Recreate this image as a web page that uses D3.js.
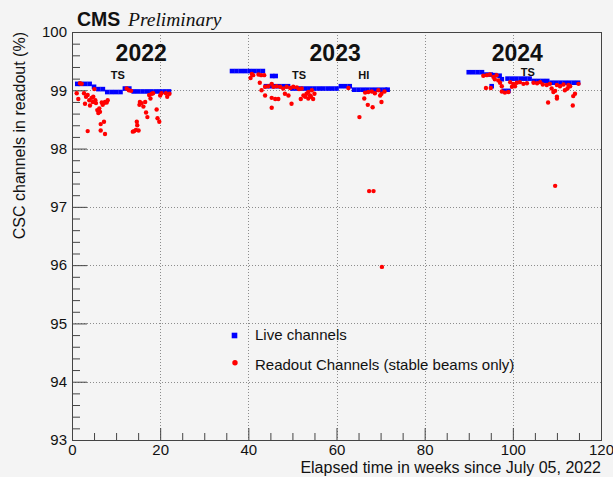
<!DOCTYPE html>
<html>
<head>
<meta charset="utf-8">
<script src="https://cdn.jsdelivr.net/npm/d3@7"></script>
<style>
  html, body { margin: 0; padding: 0; background: #f4f4f4; }
  svg { display: block; }
  text { font-family: "Liberation Sans", Arial, Helvetica, sans-serif; fill: #111; }
</style>
</head>
<body>
<svg id="chart" width="613" height="477"></svg>
<script>
// Live channels: fraction of CSC channels live, by elapsed week
const liveWeeks = [
  1.2, 2, 3, 4, 5, 6, 7, 8, 9, 10, 11, 12, 13, 14, 15, 16, 17, 18, 19, 20, 21, 22,
  36.3, 37.3, 38.3, 39.3, 40.3, 41.3, 42.3, 43.3,
  44, 45, 46, 47, 48, 49, 45.4, 46.2,
  50, 51, 52, 53, 54, 55, 56, 57, 58, 59, 60,
  61, 62, 63, 64, 65, 66, 67, 68, 69, 70, 71, 71.6,
  90, 91, 92, 93, 94, 95, 96, 97, 95.2, 97.5, 98, 99,
  98.8, 99.8, 100.8, 101.8, 102.8, 103.8, 104.8, 105.8, 106.8, 107.8,
  108.8, 109.8, 110.8, 111.8, 112.8, 113.8, 114.8
];
const liveValues = [
  99.11, 99.11, 99.11, 99.11, 99.06, 99.02, 99.02, 98.97, 98.97, 98.97, 98.97, 99.03, 99.03, 98.98, 98.98, 98.98, 98.98, 98.98, 98.98, 98.98, 98.98, 98.98,
  99.33, 99.33, 99.33, 99.33, 99.33, 99.33, 99.33, 99.33,
  99.07, 99.07, 99.07, 99.07, 99.07, 99.07, 99.245, 99.245,
  99.03, 99.03, 99.03, 99.03, 99.03, 99.03, 99.03, 99.03, 99.03, 99.03, 99.03,
  99.07, 99.07, 99.07, 99.01, 99.01, 99.01, 99.01, 99.01, 99.01, 99.01, 99.01, 99.01,
  99.31, 99.31, 99.31, 99.31, 99.27, 99.27, 99.26, 99.25, 99.07, 99.19, 98.99, 98.99,
  99.2, 99.2, 99.2, 99.2, 99.2, 99.2, 99.16, 99.16, 99.16, 99.16,
  99.13, 99.13, 99.13, 99.13, 99.13, 99.13, 99.13
];

// Readout channels during stable beams
const readoutWeeks = [
  1.07, 1.43, 1.81, 2.2, 2.72, 2.95, 3.18, 3.56, 3.92, 4.08, 4.47, 4.7, 4.83, 5.06, 5.29, 5.44,
  5.74, 5.97, 6.19, 6.35, 6.74, 6.96, 7.26, 7.49, 7.87, 8.1, 6.51, 7.26, 6.51, 7.49, 3.56,
  12.4, 12.9, 13.4, 15.4, 15.8, 15.3, 16.2, 16.6, 16.8, 17.1, 17.5, 17.8, 18.1, 18.4, 19.2,
  19.4, 19.8, 20.0, 20.3, 21.3, 21.6, 22.1, 13.8, 14.1, 14.5, 14.8, 15.1, 14.7,
  40.8, 41.1, 40.5, 42.3, 42.9, 43.6, 42.6, 43.8, 44.5, 45.3, 45.7, 46.4, 47.2, 47.9, 48.7,
  49.5, 50.2, 43.0, 43.8, 45.3, 46.1, 46.8, 45.3, 48.3, 49.1, 49.8, 52.1, 52.5, 51.9, 52.9,
  53.2, 53.6, 54.0, 54.4, 54.7, 54.2, 55.0, 53.6, 62.7, 51.0, 51.5,
  66.5, 67.2, 68.0, 68.7, 69.5, 70.2, 70.9, 66.3, 67.1, 68.2, 70.2, 69.9, 65.2, 67.4, 68.4, 70.3,
  94.1, 94.8, 95.6, 96.3, 95.9, 96.7, 93.9, 95.0, 97.5, 97.5, 98.2, 99.0, 93.3, 97.1, 99.4,
  100.1, 100.9, 101.6, 102.4, 99.8, 100.5, 104.7, 107.7, 108.4, 108.8, 109.2, 109.6, 110.0,
  110.7, 111.5, 111.8, 112.4, 113.0, 114.1, 113.7, 114.9, 112.6, 110.0, 108.0, 110.0, 113.6,
  106.2, 109.6, 103.2, 105.5, 106.8
];
const readoutValues = [
  98.95, 98.85, 99.12, 99.11, 98.95, 98.77, 98.89, 98.92, 98.83, 98.74, 98.87, 98.80, 98.89, 99.02, 98.83, 98.78,
  98.66, 98.61, 98.69, 98.63, 98.79, 98.75, 98.78, 98.80, 98.79, 98.83, 98.42, 98.46, 98.31, 98.25, 98.30,
  99.03, 99.00, 98.99, 98.80, 98.78, 98.75, 98.72, 98.80, 98.62, 98.54, 98.92, 98.86, 98.94, 98.95, 98.67,
  98.52, 98.46, 98.91, 98.95, 98.95, 98.89, 98.94, 98.29, 98.30, 98.32, 98.40, 98.31, 98.46,
  99.28, 99.26, 99.21, 99.27, 99.26, 99.26, 99.13, 99.06, 99.07, 99.11, 99.06, 99.07, 99.06, 99.03, 99.06,
  99.04, 99.06, 99.00, 98.91, 98.87, 98.85, 98.85, 98.70, 98.94, 98.91, 98.77, 99.03, 98.91, 98.85, 98.89,
  98.94, 98.97, 98.91, 99.00, 98.85, 98.89, 98.94, 98.86, 99.04, 99.05, 99.02,
  98.96, 98.97, 98.98, 98.95, 99.00, 98.94, 98.98, 98.86, 98.75, 98.71, 98.80, 98.91, 98.54, 97.27, 97.27, 95.97,
  99.26, 99.27, 99.23, 99.26, 99.19, 99.17, 99.04, 99.04, 99.07, 98.98, 98.96, 98.97, 99.25, 99.13, 99.14,
  99.11, 99.13, 99.14, 99.11, 99.06, 99.07, 99.13, 99.09, 99.11, 99.03, 98.97, 98.99, 99.09,
  99.07, 99.10, 99.00, 99.03, 99.07, 98.94, 98.90, 99.11, 99.09, 98.89, 98.79, 98.86, 98.74,
  99.14, 97.36, 99.12, 99.12, 99.10
];

// Axis tick values and labels
const xMajorTicks = [0, 20, 40, 60, 80, 100, 120];
const yMajorTicks = [93, 94, 95, 96, 97, 98, 99, 100];
const xGridTicks = [20, 40, 60, 80, 100];
const yGridTicks = [94, 95, 96, 97, 98, 99];

// Year and period annotations (text, week)
const yearLabels = ["2022", "2023", "2024"];
const yearWeeks = [15.7, 59.7, 101.0];
const periodLabels = ["TS", "TS", "HI", "TS"];
const periodWeeks = [10.4, 51.5, 66.2, 103.4];
const periodLevels = [99.2, 99.2, 99.2, 99.245];

const legendLabels = ["Live channels", "Readout Channels (stable beams only)"];

const svg = d3.select("#chart");
const W = 613, H = 477;
const m = { left: 72, right: 12, top: 32, bottom: 37 };

svg.append("rect").attr("width", W).attr("height", H).attr("fill", "#f4f4f4");

const x = d3.scaleLinear().domain([0, 120]).range([m.left, W - m.right]);
const y = d3.scaleLinear().domain([93, 100]).range([H - m.bottom, m.top]);

// Dotted grid
const grid = svg.append("g").attr("stroke", "#8c8c8c").attr("stroke-width", 1)
  .attr("stroke-dasharray", "1,2").attr("shape-rendering", "crispEdges");
grid.selectAll("line.v").data(xGridTicks).join("line").attr("class", "v")
  .attr("x1", d => Math.round(x(d)) + 0.5).attr("x2", d => Math.round(x(d)) + 0.5)
  .attr("y1", y(100)).attr("y2", y(93));
grid.selectAll("line.h").data(yGridTicks).join("line").attr("class", "h")
  .attr("y1", d => Math.round(y(d)) + 0.5).attr("y2", d => Math.round(y(d)) + 0.5)
  .attr("x1", x(0)).attr("x2", x(120));

// Minor ticks
const xMinor = d3.range(0, 121, 5).filter(v => v % 20 !== 0);
const yMinor = d3.range(93, 100.001, 0.2).map(v => +v.toFixed(1)).filter(v => Math.abs(v - Math.round(v)) > 1e-6);

const axisColor = "#444";
const styleAxis = g => {
  g.select(".domain").remove();
  g.selectAll("line").attr("stroke", axisColor);
  g.selectAll("text").attr("fill", "#111")
    .style("font-family", "'Liberation Sans', Arial, sans-serif").style("font-size", "15px");
};

svg.append("g").attr("transform", `translate(0,${y(93)})`)
  .call(d3.axisBottom(x).tickValues(xMajorTicks).tickSizeInner(-12).tickSizeOuter(0).tickPadding(4).tickFormat(d3.format("d")))
  .call(styleAxis);
svg.append("g").attr("transform", `translate(0,${y(93)})`)
  .call(d3.axisBottom(x).tickValues(xMinor).tickSizeInner(-7).tickSizeOuter(0).tickFormat(""))
  .call(styleAxis);
svg.append("g").attr("transform", `translate(${x(0)},0)`)
  .call(d3.axisLeft(y).tickValues(yMajorTicks).tickSizeInner(-15).tickSizeOuter(0).tickPadding(5).tickFormat(d3.format("d")))
  .call(styleAxis);
svg.append("g").attr("transform", `translate(${x(0)},0)`)
  .call(d3.axisLeft(y).tickValues(yMinor).tickSizeInner(-8).tickSizeOuter(0).tickFormat(""))
  .call(styleAxis);

// Frame
svg.append("rect").attr("x", x(0) + 0.5).attr("y", y(100) + 0.5)
  .attr("width", x(120) - x(0)).attr("height", y(93) - y(100))
  .attr("fill", "none").attr("stroke", axisColor).attr("stroke-width", 1);

// Live channels (blue squares)
const sq = 4.6;
const live = liveWeeks.map((w, i) => ({ w, v: liveValues[i] }));
svg.append("g").selectAll("rect").data(live).join("rect")
  .attr("x", d => x(d.w) - sq / 2).attr("y", d => y(d.v) - sq / 2)
  .attr("width", sq).attr("height", sq).attr("fill", "#0000ff");

// Readout channels (red dots)
const readout = readoutWeeks.map((w, i) => ({ w, v: readoutValues[i] }));
svg.append("g").selectAll("circle").data(readout).join("circle")
  .attr("cx", d => x(d.w)).attr("cy", d => y(d.v)).attr("r", 2.2).attr("fill", "#ff0000");

// Year labels
svg.append("g").selectAll("text").data(yearLabels).join("text")
  .attr("x", (d, i) => x(yearWeeks[i])).attr("y", 61)
  .attr("text-anchor", "middle").style("font-weight", "bold").style("font-size", "23px")
  .text(d => d);

// Period labels
svg.append("g").selectAll("text").data(periodLabels).join("text")
  .attr("x", (d, i) => x(periodWeeks[i])).attr("y", (d, i) => y(periodLevels[i]))
  .attr("text-anchor", "middle").style("font-weight", "bold").style("font-size", "11px")
  .text(d => d);

// Header
svg.append("text").attr("x", 77).attr("y", 25.5)
  .style("font-weight", "bold").style("font-size", "19.5px").text("CMS");
svg.append("text").attr("x", 128).attr("y", 25.5)
  .style("font-family", "'Liberation Serif', 'Times New Roman', serif")
  .style("font-style", "italic").style("font-size", "19.5px").text("Preliminary");

// Axis titles
svg.append("text").attr("x", W - m.right).attr("y", 473)
  .attr("text-anchor", "end").style("font-size", "16px")
  .text("Elapsed time in weeks since July 05, 2022");
svg.append("text").attr("transform", `translate(25,${m.top}) rotate(-90)`)
  .attr("text-anchor", "end").style("font-size", "16px")
  .text("CSC channels in readout (%)");

// Legend
const lg = svg.append("g");
lg.append("rect").attr("x", 234.5 - 2.8).attr("y", 335.5 - 2.8).attr("width", 5.6).attr("height", 5.6).attr("fill", "#0000ff");
lg.append("circle").attr("cx", 235).attr("cy", 362.7).attr("r", 2.7).attr("fill", "#ff0000");
lg.selectAll("text").data(legendLabels).join("text")
  .attr("x", 255).attr("y", (d, i) => 340 + i * 29.5)
  .style("font-size", "15px").text(d => d);
</script>
</body>
</html>
